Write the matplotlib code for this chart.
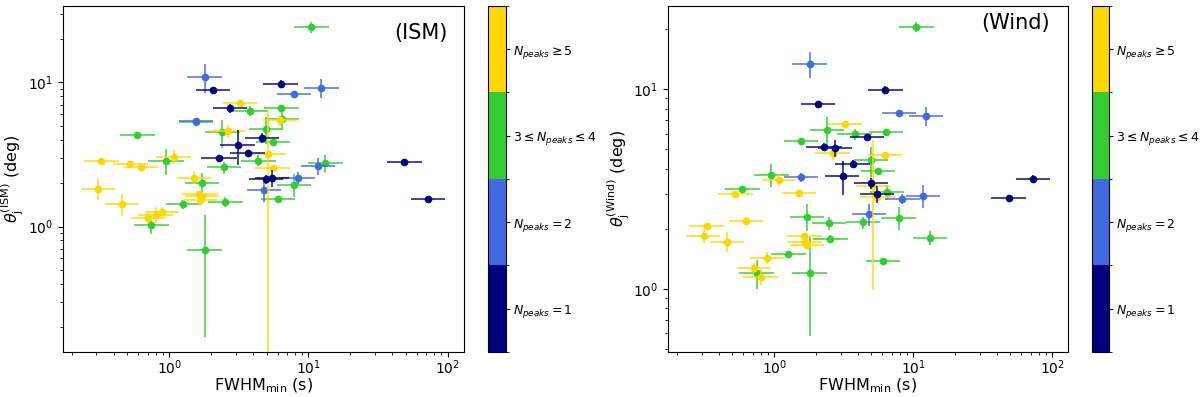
import numpy as np
import matplotlib
matplotlib.use("Agg")
import matplotlib.pyplot as plt
from matplotlib.colors import ListedColormap, BoundaryNorm
import matplotlib.cm as cm

# colours of the four N_peaks classes
colors = ["#000080", "#4169E1", "#32CD32", "#FFD700"]
class_labels = [r"$N_{peaks}=1$", r"$N_{peaks}=2$",
                r"$3\leq N_{peaks}\leq 4$", r"$N_{peaks}\geq 5$"]

# N_peaks = 1
fwhm_1 = [2.07, 6.3, 2.72, 4.63, 3.1, 3.67, 2.28, 4.97, 5.5, 48.8, 72.5]
fwhm_lo_1 = [1.55, 4.75, 2.05, 3.5, 2.33, 2.75, 1.7, 3.75, 4.15, 36.5, 54.5]
fwhm_hi_1 = [2.75, 8.4, 3.6, 6.15, 4.1, 4.9, 3.05, 6.6, 7.3, 65, 96]
ism_1 = [8.9, 9.8, 6.64, 4.13, 3.67, 3.26, 2.98, 2.13, 2.18, 2.8, 1.55]
ism_err_1 = [0.4, 0.6, 0.5, 0.3, 1.0, 0.1, 0.1, 0.15, 0.3, 0.12, 0.08]
wind_1 = [8.45, 9.93, 5.06, 5.75, 3.66, 4.23, 5.16, 3.38, 2.98, 2.85, 3.55]
wind_err_1 = [0.3, 0.5, 0.5, 0.2, 0.7, 0.2, 0.2, 0.2, 0.3, 0.1, 0.15]

# N_peaks = 2
fwhm_2 = [1.8, 1.56, 7.9, 12.4, 11.7, 8.35, 4.82]
fwhm_lo_2 = [1.35, 1.17, 5.95, 9.3, 8.8, 6.3, 3.6]
fwhm_hi_2 = [2.4, 2.08, 10.5, 16.5, 15.6, 11.1, 6.4]
ism_2 = [10.9, 5.36, 8.35, 9.19, 2.64, 2.18, 1.78]
ism_err_2 = [2.5, 0.35, 0.2, 1.4, 0.35, 0.2, 0.3]
wind_2 = [13.4, 3.62, 7.64, 7.36, 2.93, 2.82, 2.37]
wind_err_2 = [2.0, 0.2, 0.2, 0.8, 0.4, 0.15, 0.3]

# 3 <= N_peaks <= 4
fwhm_3 = [10.5, 0.59, 0.95, 0.745, 1.26, 1.55, 1.72, 1.8, 2.4, 2.47,
          2.53, 3.8, 4.36, 4.97, 5.57, 6.05, 6.4, 6.45, 7.87, 13.2]
fwhm_lo_3 = [7.9, 0.44, 0.71, 0.56, 0.95, 1.17, 1.29, 1.35, 1.8, 1.86,
             1.9, 2.85, 3.28, 3.74, 4.2, 4.55, 4.8, 4.85, 5.9, 9.9]
fwhm_hi_3 = [14.0, 0.79, 1.27, 0.99, 1.68, 2.07, 2.29, 2.4, 3.2, 3.29,
             3.37, 5.05, 5.8, 6.6, 7.4, 8.05, 8.5, 8.6, 10.5, 17.6]
ism_3 = [24.2, 4.3, 2.87, 1.03, 1.43, 5.3, 2.01, 0.69, 4.5, 2.57,
         1.49, 6.36, 2.87, 4.77, 3.86, 1.55, 6.6, 5.57, 1.95, 2.76]
ism_err_3 = [2.0, 0.15, 0.6, 0.15, 0.1, 0.2, 0.35, 0.52, 1.0, 0.25,
             0.12, 0.5, 0.25, 1.0, 0.12, 0.05, 0.3, 0.8, 0.35, 0.4]
wind_3 = [20.6, 3.16, 3.73, 1.2, 1.49, 5.51, 2.3, 1.2, 6.25, 2.13,
          1.78, 5.95, 2.15, 4.4, 3.9, 1.38, 6.14, 3.05, 2.26, 1.8]
wind_err_3 = [1.2, 0.1, 0.5, 0.2, 0.05, 0.15, 0.35, 0.62, 1.0, 0.15,
              0.07, 0.4, 0.15, 0.75, 0.12, 0.05, 0.15, 0.25, 0.3, 0.15]

# N_peaks >= 5
fwhm_5 = [0.326, 0.31, 0.46, 0.525, 0.624, 0.71, 0.80, 0.89, 1.08,
          1.51, 1.65, 1.67, 1.72, 2.63, 3.22, 5.15, 5.52, 6.25]
fwhm_lo_5 = [0.245, 0.233, 0.345, 0.395, 0.47, 0.535, 0.6, 0.67, 0.81,
             1.13, 1.24, 1.25, 1.29, 1.98, 2.42, 3.87, 4.15, 4.7]
fwhm_hi_5 = [0.435, 0.41, 0.61, 0.7, 0.83, 0.945, 1.06, 1.18, 1.44,
             2.0, 2.2, 2.22, 2.29, 3.5, 4.28, 6.85, 7.35, 8.3]
ism_5 = [2.87, 1.83, 1.44, 2.71, 2.6, 1.14, 1.21, 1.26, 3.05,
         2.18, 1.69, 1.53, 1.62, 4.6, 7.26, 3.17, 2.53, 5.45]
ism_err_5 = [0.1, 0.3, 0.25, 0.1, 0.15, 0.1, 0.15, 0.1, 0.35,
             0.2, 0.05, 0.05, 0.05, 0.5, 0.15, 3.25, 0.05, 0.5]
wind_5 = [2.06, 1.84, 1.72, 2.99, 2.18, 1.27, 1.15, 1.43, 3.51,
          3.03, 1.84, 1.72, 1.66, 4.78, 6.68, 3.28, 2.87, 4.7]
wind_err_5 = [0.05, 0.15, 0.2, 0.07, 0.1, 0.07, 0.1, 0.1, 0.25,
              0.1, 0.05, 0.05, 0.05, 0.35, 0.1, 2.3, 0.05, 0.1]

fwhm = [fwhm_1, fwhm_2, fwhm_3, fwhm_5]
fwhm_lo = [fwhm_lo_1, fwhm_lo_2, fwhm_lo_3, fwhm_lo_5]
fwhm_hi = [fwhm_hi_1, fwhm_hi_2, fwhm_hi_3, fwhm_hi_5]
ism = [ism_1, ism_2, ism_3, ism_5]
ism_err = [ism_err_1, ism_err_2, ism_err_3, ism_err_5]
wind = [wind_1, wind_2, wind_3, wind_5]
wind_err = [wind_err_1, wind_err_2, wind_err_3, wind_err_5]

# drawing order: green, blue, yellow, navy
order = [2, 1, 3, 0]

cmap = ListedColormap(colors)
norm = BoundaryNorm([0.5, 1.5, 2.5, 3.5, 4.5], cmap.N)

fig = plt.figure(figsize=(12, 3.97), dpi=100)
ax1 = fig.add_axes([0.0523, 0.114, 0.334, 0.871])
cax1 = fig.add_axes([0.407, 0.114, 0.0144, 0.871])
ax2 = fig.add_axes([0.5567, 0.114, 0.3333, 0.871])
cax2 = fig.add_axes([0.91, 0.114, 0.0138, 0.871])


def draw(ax, ys, yerrs):
    for k in order:
        x = np.array(fwhm[k])
        xerr = [x - np.array(fwhm_lo[k]), np.array(fwhm_hi[k]) - x]
        ax.errorbar(x, ys[k], xerr=xerr, yerr=yerrs[k], fmt="none",
                    ecolor=colors[k], elinewidth=1.3, alpha=0.8)
        ax.plot(x, ys[k], "o", color=colors[k], ms=4.5, ls="none")
    ax.set_xscale("log")
    ax.set_yscale("log")
    ax.tick_params(axis="x", which="both", pad=1)
    ax.set_xlabel(r"FWHM$_{\rm min}$ (s)", fontsize=11.5, labelpad=0)


draw(ax1, ism, ism_err)
ax1.set_xlim(0.172, 130)
ax1.set_ylim(0.135, 34)
ax1.set_ylabel(r"$\theta_{\rm j}^{\rm (ISM)}$ (deg)", fontsize=11.5, labelpad=1)
ax1.text(0.959, 0.922, "(ISM)", transform=ax1.transAxes, fontsize=15,
         ha="right", va="center")

draw(ax2, wind, wind_err)
ax2.set_xlim(0.172, 130)
ax2.set_ylim(0.483, 26.2)
ax2.set_ylabel(r"$\theta_{\rm j}^{\rm (Wind)}$ (deg)", fontsize=11.5, labelpad=1)
ax2.text(0.955, 0.95, "(Wind)", transform=ax2.transAxes, fontsize=15,
         ha="right", va="center")

for cax in [cax1, cax2]:
    sm = cm.ScalarMappable(cmap=cmap, norm=norm)
    cb = fig.colorbar(sm, cax=cax, ticks=[1, 2, 3, 4])
    cb.ax.set_yticklabels(class_labels, fontsize=9)
    cb.ax.tick_params(length=3, pad=2)

plt.savefig("out.png", dpi=100)
